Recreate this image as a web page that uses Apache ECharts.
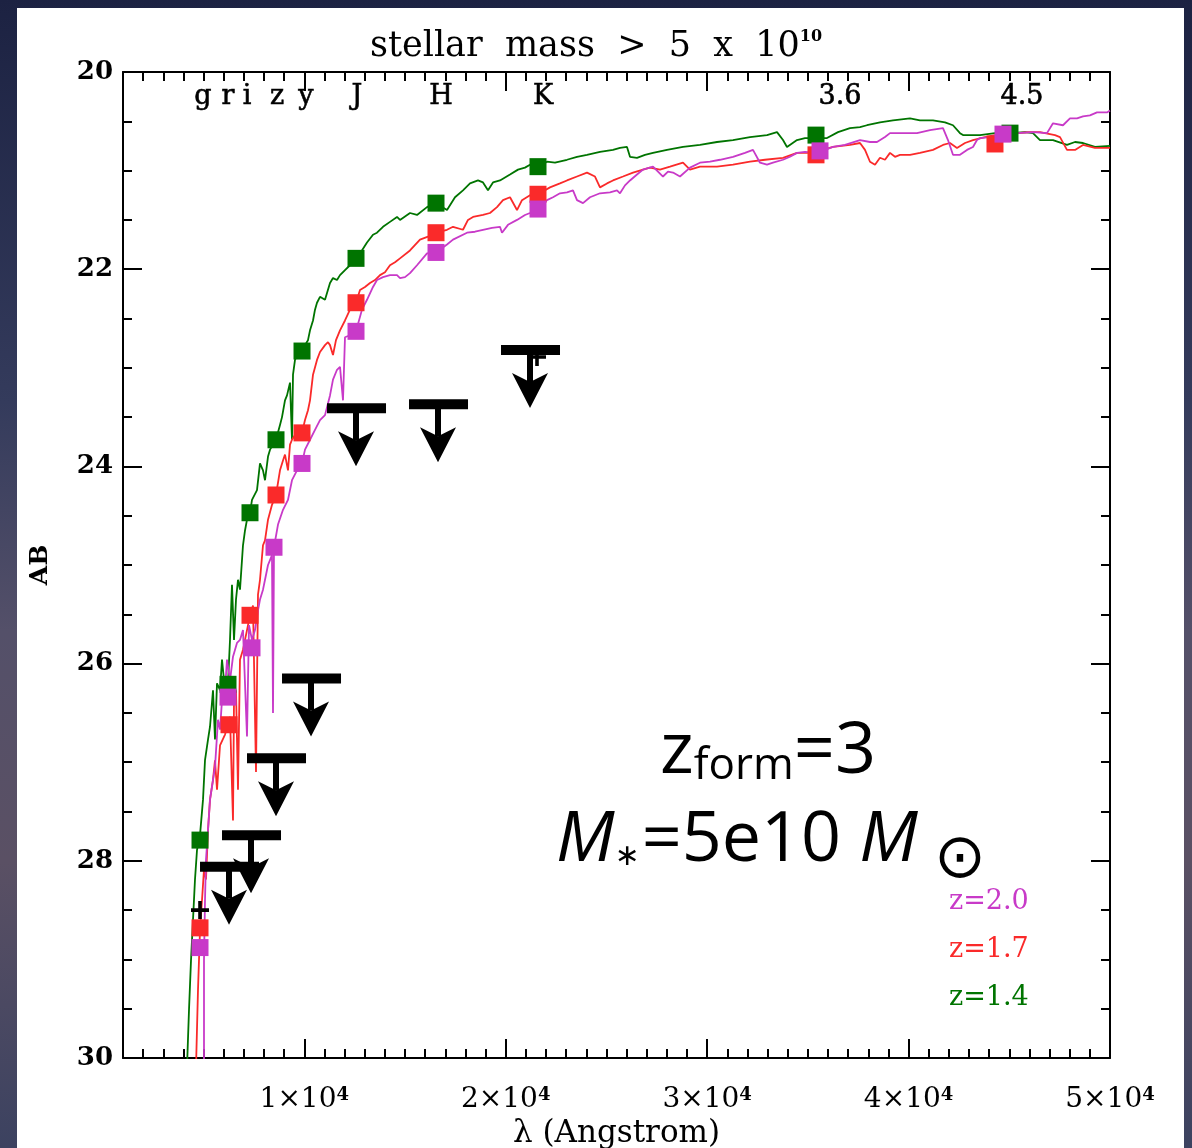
<!DOCTYPE html>
<html>
<head>
<meta charset="utf-8">
<script src="https://cdn.jsdelivr.net/npm/echarts@6/dist/echarts.min.js"></script>
<style>html,body{margin:0;padding:0;background:#2a3050;}#c{width:1192px;height:1148px;}</style>
</head>
<body>
<div id="c"></div>
<script>
// ---------------- data ----------------
const xTickValues = [10000, 20000, 30000, 40000, 50000];
const yTickValues = [20, 22, 24, 26, 28, 30];

const filterNames  = ['g', 'r', 'i', 'z', 'y', 'J', 'H', 'K', '3.6', '4.5'];
const filterLabelX = [4972, 6213, 7156, 8645, 10085, 12617, 16787, 21851, 36595, 45630];
const filterLabelY = 20.25;

// spectra: [wavelength (Angstrom), AB mag]
const specZ14 = [
 [4177,30.1],[4277,29.51],[4376,29.01],[4475,28.60],[4574,28.19],[4674,27.89],[4823,27.74],[4972,27.38],
 [5071,26.98],[5220,26.77],[5319,26.64],[5468,26.27],[5567,26.77],[5667,26.20],[5816,26.27],[5915,25.96],
 [6064,26.27],[6213,26.20],[6312,25.76],[6411,25.20],[6511,25.76],[6610,25.35],[6709,25.15],[6808,25.25],
 [6957,24.80],[7057,24.65],[7156,24.54],[7305,24.47],[7404,24.34],[7652,24.24],[7801,23.97],[7950,24.04],
 [8050,24.14],[8199,23.90],[8298,23.83],[8447,23.78],[8596,23.73],[8794,23.58],[8894,23.50],[9042,23.33],
 [9142,23.28],[9291,23.15],[9390,23.73],[9440,23.07],[9539,22.92],[9638,22.87],[9787,22.84],[9887,22.83],
 [10035,22.77],[10184,22.72],[10284,22.62],[10433,22.52],[10532,22.41],[10631,22.34],[10780,22.28],[11028,22.31],
 [11277,22.14],[11425,22.09],[11624,22.11],[11773,22.06],[12021,22.01],[12269,21.96],[12567,21.89],[12766,21.84],
 [13113,21.73],[13411,21.65],[13610,21.63],[13908,21.57],[14255,21.52],[14603,21.47],[14752,21.50],[15248,21.43],
 [15596,21.45],[16092,21.37],[16539,21.33],[17085,21.40],[17482,21.27],[17879,21.20],[18227,21.13],[18624,21.10],
 [18872,21.12],[19120,21.20],[19369,21.12],[19716,21.10],[20213,21.04],[20610,20.99],[20957,20.97],[21206,20.94],
 [21603,20.96],[22049,20.91],[22447,20.92],[23042,20.89],[23539,20.86],[24035,20.84],[24681,20.81],[25326,20.79],
 [25674,20.77],[26021,20.76],[26170,20.86],[26518,20.87],[26915,20.84],[27312,20.82],[28007,20.79],[28801,20.76],
 [29645,20.74],[30489,20.71],[31283,20.69],[32127,20.66],[32971,20.64],[33468,20.61],[33766,20.69],[33964,20.76],
 [34461,20.69],[34858,20.67],[35404,20.67],[35950,20.67],[36496,20.61],[37092,20.57],[37589,20.56],[37935,20.54],
 [38581,20.51],[39227,20.49],[40071,20.47],[40567,20.49],[41212,20.49],[41808,20.51],[42205,20.54],[42553,20.62],
 [42702,20.64],[43049,20.64],[43546,20.64],[44290,20.62],[45035,20.62],[45780,20.61],[46177,20.62],[46524,20.69],
 [47170,20.69],[47865,20.74],[48262,20.71],[48659,20.72],[49255,20.76],[50000,20.75]
];
const specZ17 = [
 [4624,30.1],[4723,29.31],[4823,28.70],[4922,28.40],[5021,28.09],[5120,28.19],[5220,27.69],[5319,27.38],
 [5468,27.18],[5567,26.98],[5667,27.28],[5816,26.83],[5915,26.85],[6064,26.72],[6213,26.62],[6312,26.54],
 [6461,27.59],[6511,26.37],[6610,26.27],[6709,27.28],[6808,25.96],[6957,25.86],[7057,25.76],[7156,25.66],
 [7305,25.51],[7454,25.41],[7603,27.10],[7702,25.30],[7801,25.15],[7950,24.80],[8050,24.75],[8199,24.54],
 [8397,24.39],[8596,24.29],[8794,24.04],[8943,23.94],[9042,23.88],[9191,24.04],[9291,23.78],[9390,23.73],
 [9539,23.68],[9787,23.66],[9887,23.66],[10035,23.53],[10184,23.43],[10284,23.33],[10433,23.07],[10631,22.92],
 [10780,22.84],[11028,22.77],[11177,22.74],[11277,22.77],[11425,22.87],[11574,22.72],[11773,22.62],[12021,22.52],
 [12269,22.41],[12567,22.34],[12766,22.21],[13014,22.18],[13262,22.14],[13511,22.11],[13759,22.06],[14007,22.03],
 [14255,21.96],[14503,21.93],[14752,21.89],[15248,21.81],[15745,21.70],[16142,21.67],[16539,21.63],[17085,21.60],
 [17383,21.57],[17879,21.60],[18128,21.50],[18376,21.47],[18872,21.45],[19220,21.43],[19567,21.37],[19865,21.30],
 [20213,21.27],[20560,21.40],[20808,21.30],[21206,21.25],[21603,21.24],[22198,21.17],[22694,21.13],[23042,21.10],
 [23539,21.06],[24035,21.02],[24432,21.06],[24681,21.17],[25028,21.13],[25326,21.10],[25823,21.06],[26319,21.02],
 [26815,20.99],[27163,20.97],[27659,20.99],[28156,20.96],[28801,20.92],[29149,20.99],[29645,20.96],[30489,20.96],
 [31283,20.94],[32127,20.91],[32872,20.89],[33766,20.87],[34461,20.82],[34957,20.82],[35404,20.81],[36248,20.76],
 [37092,20.74],[37589,20.72],[37837,20.79],[38085,20.91],[38333,20.94],[38581,20.87],[38829,20.89],[39078,20.82],
 [39326,20.86],[39574,20.84],[40071,20.84],[40567,20.82],[41212,20.79],[41709,20.74],[42056,20.72],[42404,20.77],
 [42801,20.72],[43198,20.69],[43794,20.66],[44290,20.64],[44787,20.64],[45383,20.62],[46028,20.61],[46524,20.61],
 [47269,20.64],[47517,20.66],[47865,20.79],[48262,20.79],[48659,20.74],[49255,20.77],[50000,20.77]
];
const specZ20 = [
 [5021,30.1],[5021,29.01],[5071,28.40],[5120,27.99],[5220,27.69],[5319,27.38],[5468,27.18],[5567,27.05],
 [5716,26.57],[5816,26.67],[5915,26.37],[6064,26.27],[6163,25.96],[6312,26.17],[6461,25.93],[6659,25.79],
 [6808,25.76],[6957,25.66],[7156,26.74],[7255,25.61],[7404,25.76],[7553,25.66],[7702,25.46],[7801,25.35],
 [7950,25.25],[8050,25.15],[8199,25.00],[8298,24.95],[8397,24.90],[8447,26.50],[8496,24.82],[8695,24.59],
 [8943,24.44],[9191,24.34],[9390,24.14],[9638,24.04],[9887,23.97],[10035,23.83],[10284,23.73],[10532,23.63],
 [10780,23.53],[11028,23.48],[11277,23.28],[11425,23.12],[11624,23.02],[11773,22.99],[11922,23.33],[12021,22.69],
 [12269,22.67],[12567,22.63],[12865,22.41],[13113,22.31],[13411,22.18],[13610,22.11],[13908,22.08],[14255,22.06],
 [14603,22.06],[14752,22.09],[14999,22.08],[15248,22.04],[15596,21.96],[16092,21.84],[16539,21.83],[17085,21.75],
 [17383,21.70],[18078,21.63],[18475,21.62],[18872,21.60],[19319,21.58],[19716,21.57],[19815,21.63],[20113,21.55],
 [20560,21.50],[20957,21.45],[21206,21.43],[21603,21.39],[22049,21.30],[22347,21.27],[22694,21.23],[23042,21.22],
 [23340,21.20],[23539,21.30],[23837,21.33],[24184,21.27],[24681,21.23],[25177,21.22],[25525,21.20],[25674,21.23],
 [25922,21.15],[26170,21.10],[26518,21.04],[26815,20.99],[27312,20.96],[27560,21.01],[27808,21.06],[28057,21.01],
 [28305,21.02],[28652,21.06],[29149,20.97],[29645,20.92],[30142,20.91],[30638,20.89],[31283,20.86],[31879,20.82],
 [32276,20.79],[32624,20.92],[32971,20.94],[33269,20.92],[33766,20.89],[34113,20.86],[34461,20.82],[34858,20.81],
 [35354,20.82],[35851,20.79],[36248,20.76],[36844,20.74],[37589,20.69],[38085,20.71],[38432,20.71],[38829,20.66],
 [39078,20.62],[39574,20.62],[40418,20.62],[41064,20.59],[41709,20.57],[41957,20.69],[42205,20.84],[42553,20.84],
 [42900,20.79],[43198,20.76],[43397,20.69],[43546,20.67],[44042,20.66],[44687,20.63],[45035,20.69],[45383,20.62],
 [46177,20.61],[46872,20.62],[47170,20.52],[47666,20.54],[48014,20.47],[48361,20.47],[48659,20.45],[49006,20.44],
 [49354,20.41],[49850,20.41],[50000,20.39]
];

// synthetic photometry (squares)
const photZ14 = [[4823,27.79],[6213,26.21],[7305,24.47],[8596,23.73],[9887,22.83],[12568,21.89],[16539,21.33],[21603,20.96],[35404,20.64],[45035,20.62]];
const photZ17 = [[4823,28.68],[6262,26.62],[7305,25.51],[8596,24.29],[9887,23.66],[12568,22.34],[16539,21.63],[21603,21.24],[35404,20.84],[44290,20.73]];
const photZ20 = [[4823,28.88],[6213,26.34],[7404,25.84],[8496,24.82],[9887,23.97],[12568,22.63],[16539,21.83],[21603,21.39],[35603,20.80],[44687,20.63]];

// upper limits
const limitX = [6263, 7355, 8596, 10334, 12568, 16639, 21206];
const limitY = [28.06, 27.74, 26.96, 26.15, 23.41, 23.37, 22.82];

// small detections (crosses)
const crossX = [4823, 21553];
const crossY = [28.50, 22.89];

const legendLabels = ['z=2.0', 'z=1.7', 'z=1.4'];
const colMag = '#c83ac8', colRed = '#fa2a2a', colGrn = '#007400';
const legendColors = [colMag, colRed, colGrn];

// ---------------- chart ----------------
const chart = echarts.init(document.getElementById('c'), null, {renderer: 'canvas'});
const SERIF = 'DejaVu Serif';
const SANS = 'Open Sans';
const axisLineStyle = {color: '#000', width: 2};

const xMajor = (pos, withLabels) => ({
  type: 'value', position: pos, min: 1000, max: 50000, gridIndex: 0,
  axisLine: {show: true, lineStyle: axisLineStyle},
  axisTick: {show: true, inside: true, length: 19, lineStyle: {color: '#000', width: 2}, customValues: xTickValues},
  axisLabel: withLabels ? {
    show: true, customValues: xTickValues, margin: 28,
    formatter: v => '{b|' + (v / 10000) + '×10}{s|4}',
    rich: {b: {fontFamily: SERIF, fontSize: 28, color: '#000', verticalAlign: 'bottom'},
           s: {fontFamily: SERIF, fontSize: 18, fontWeight: 'bold', color: '#000', verticalAlign: 'top'}}
  } : {show: false},
  splitLine: {show: false},
  name: withLabels ? 'λ (Angstrom)' : '', nameLocation: 'middle', nameGap: 58,
  nameTextStyle: {fontFamily: SERIF, fontSize: 31, color: '#000'}
});
const xMinor = (pos) => ({
  type: 'value', position: pos, min: 1000, max: 50000, interval: 1000, gridIndex: 0,
  axisLine: {show: false},
  axisTick: {show: true, inside: true, length: 9, lineStyle: {color: '#000', width: 2}},
  axisLabel: {show: false}, splitLine: {show: false}
});
const yAx = (pos, withLabels) => ({
  type: 'value', position: pos, min: 20, max: 30, interval: 2, inverse: true, gridIndex: 0,
  axisLine: {show: true, lineStyle: axisLineStyle},
  axisTick: {show: true, inside: true, length: 19, lineStyle: {color: '#000', width: 2}},
  minorTick: {show: true, splitNumber: 4, length: 9, lineStyle: {color: '#000', width: 2}},
  axisLabel: withLabels ? {show: true, margin: 10, fontFamily: SERIF, fontSize: 26, fontWeight: 'bold', color: '#000'} : {show: false},
  splitLine: {show: false}, minorSplitLine: {show: false},
  name: withLabels ? 'AB' : '', nameLocation: 'middle', nameGap: 70, nameRotate: 90,
  nameTextStyle: {fontFamily: SERIF, fontSize: 25, fontWeight: 'bold', color: '#000'}
});

const lineSeries = (name, data, color) => ({
  name, type: 'line', data, showSymbol: false, symbol: 'none', smooth: false,
  lineStyle: {color, width: 1.8}, xAxisIndex: 0, yAxisIndex: 0, z: 2, silent: true
});
const squareSeries = (name, data, color, z) => ({
  name, type: 'scatter', data, symbol: 'rect', symbolSize: 17,
  itemStyle: {color, opacity: 1}, xAxisIndex: 0, yAxisIndex: 0, z, silent: true
});

const option = {
  animation: false,
  backgroundColor: {
    type: 'linear', x: 0, y: 0, x2: 0, y2: 1,
    colorStops: [
      {offset: 0, color: '#1c2242'}, {offset: 0.35, color: '#343b5c'},
      {offset: 0.55, color: '#545069'}, {offset: 0.75, color: '#5a5064'},
      {offset: 1, color: '#3c4260'}
    ]
  },
  title: {
    text: 'stellar  mass  >  5  x  10{sup|10}', left: 'center', top: 24,
    textStyle: {fontFamily: SERIF, fontSize: 35, fontWeight: 'normal', color: '#000',
      rich: {sup: {fontFamily: SERIF, fontSize: 16, fontWeight: 'bold', color: '#000', verticalAlign: 'top'}}}
  },
  grid: {left: 123, right: 82, top: 72, bottom: 90, containLabel: false, outerBoundsMode: 'none'},
  xAxis: [xMajor('bottom', true), xMinor('bottom'), xMajor('top', false), xMinor('top')],
  yAxis: [yAx('left', true), yAx('right', false)],
  graphic: [
    {type: 'rect', z: -10, silent: true, shape: {x: 17, y: 8, width: 1167, height: 1145}, style: {fill: '#ffffff'}},
    {type: 'text', left: 660, top: 716, z: 50, style: {
      text: '{a|z}{b|form}{a|=3}', rich: {
        a: {fontFamily: SANS, fontSize: 72, fill: '#000', verticalAlign: 'bottom'},
        b: {fontFamily: SANS, fontSize: 44, fill: '#000', verticalAlign: 'bottom'}}}},
    {type: 'text', left: 556, top: 806, z: 50, style: {
      text: '{i|M}{st|∗}{a|=5e10 }{i|M}{sun|⊙}', rich: {
        i: {fontFamily: SANS, fontStyle: 'italic', fontSize: 70, fill: '#000', verticalAlign: 'bottom'},
        st: {fontFamily: 'DejaVu Sans', fontSize: 30, fill: '#000', verticalAlign: 'bottom', padding: [0, 2, 4, 0]},
        a: {fontFamily: SANS, fontSize: 70, fill: '#000', verticalAlign: 'bottom'},
        sun: {fontFamily: 'DejaVu Sans', fontSize: 62, fill: '#000', verticalAlign: 'bottom', padding: [0, 0, -16, 16]}}}},
    ...legendLabels.map((t, i) => ({
      type: 'text', left: 949, top: 888 + i * 48, z: 50,
      style: {text: t, fontFamily: SERIF, fontSize: 27, fill: legendColors[i]}
    }))
  ],
  series: [
    lineSeries('z=1.4', specZ14, colGrn),
    lineSeries('z=1.7', specZ17, colRed),
    lineSeries('z=2.0', specZ20, colMag),
    squareSeries('z=1.4 phot', photZ14, colGrn, 4),
    squareSeries('z=1.7 phot', photZ17, colRed, 5),
    squareSeries('z=2.0 phot', photZ20, colMag, 6),
    {
      name: 'upper limits', type: 'custom', xAxisIndex: 0, yAxisIndex: 0, z: 10, silent: true,
      data: limitX.map((x, i) => [x, limitY[i]]),
      renderItem: (params, api) => {
        const p = api.coord([api.value(0), api.value(1)]);
        const x = p[0], y = p[1];
        return {type: 'group', children: [
          {type: 'rect', shape: {x: x - 29, y: y - 5, width: 59, height: 10}, style: {fill: '#000'}},
          {type: 'rect', shape: {x: x - 3, y: y, width: 6, height: 32}, style: {fill: '#000'}},
          {type: 'polygon', shape: {points: [[x - 18, y + 23], [x, y + 32], [x + 18, y + 23], [x, y + 58]]}, style: {fill: '#000'}}
        ]};
      }
    },
    {
      name: 'detections', type: 'scatter', xAxisIndex: 0, yAxisIndex: 0, z: 11, silent: true,
      data: crossX.map((x, i) => [x, crossY[i]]),
      symbol: 'path://M4,0h2v4h4v2h-4v4h-2v-4h-4v-2h4z', symbolSize: 18, itemStyle: {color: '#000', opacity: 1}
    },
    {
      name: 'filters', type: 'scatter', xAxisIndex: 0, yAxisIndex: 0, z: 12, silent: true,
      symbolSize: 0, itemStyle: {opacity: 1},
      data: filterNames.map((n, i) => ({name: n, value: [filterLabelX[i], filterLabelY]})),
      label: {show: true, position: 'inside', formatter: p => p.name, opacity: 1,
        fontFamily: SERIF, fontSize: 27, color: '#000', textBorderWidth: 0.6, textBorderColor: '#000'}
    }
  ]
};
chart.setOption(option);
</script>
</body>
</html>
